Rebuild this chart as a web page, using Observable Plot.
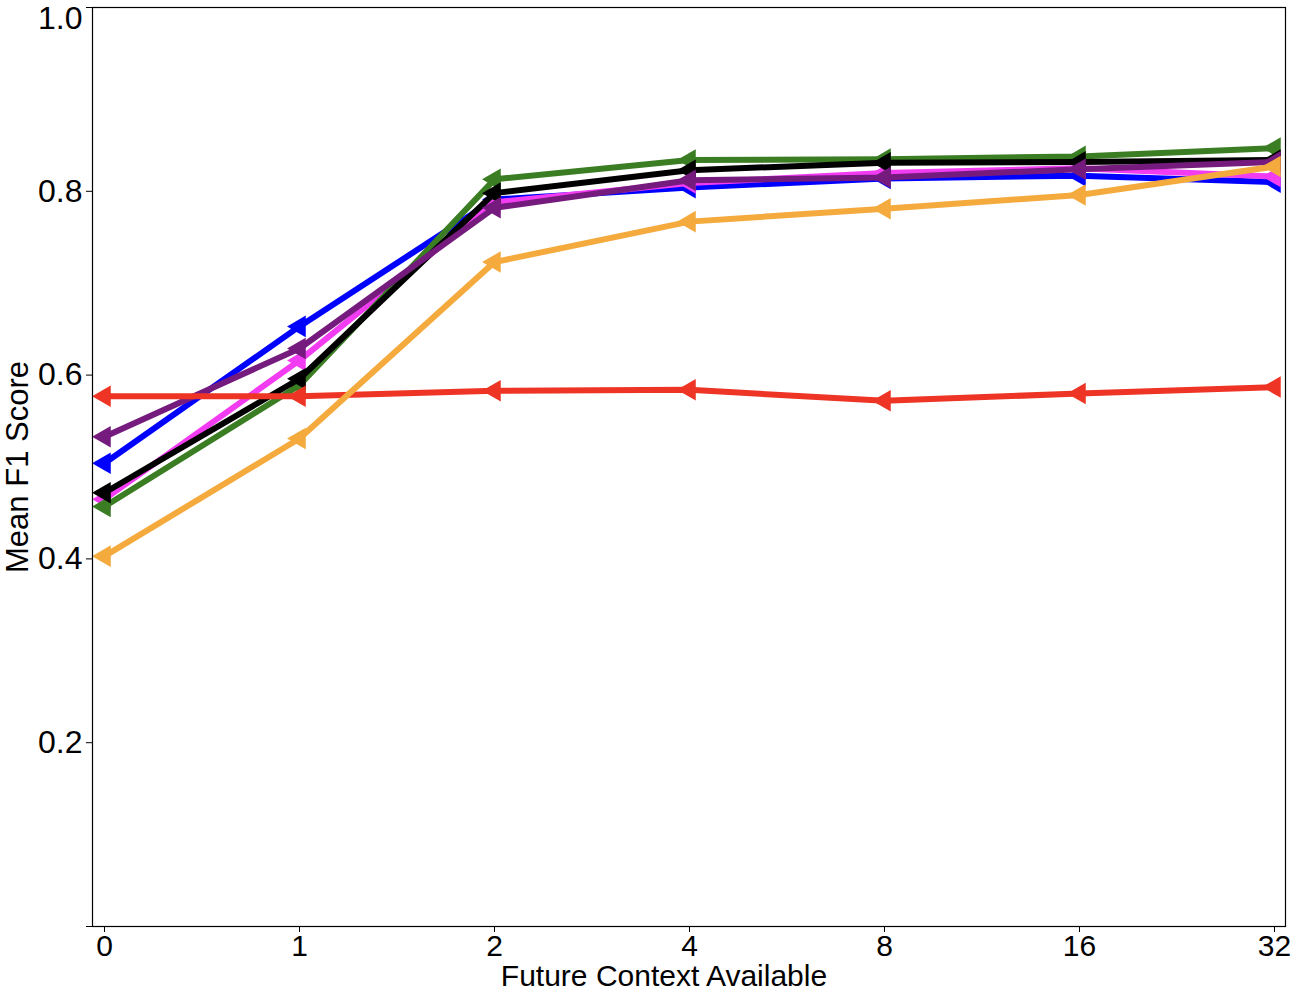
<!DOCTYPE html>
<html>
<head>
<meta charset="utf-8">
<script src="https://cdn.jsdelivr.net/npm/d3@7"></script>
<script src="https://cdn.jsdelivr.net/npm/@observablehq/plot@0.6"></script>
<style>
  html, body { margin: 0; padding: 0; background: #fff; }
  #chart svg { display: block; }
</style>
</head>
<body>
<div id="chart"></div>
<script>
const contexts = ["0", "1", "2", "4", "8", "16", "32"];
const yTicks = [0, 0.2, 0.4, 0.6, 0.8, 1.0];
const yTopLabel = [1.0];

const blueVals    = [0.504, 0.653, 0.791, 0.804, 0.814, 0.817, 0.810];
const magentaVals = [0.465, 0.616, 0.788, 0.809, 0.820, 0.825, 0.816];
const greenVals   = [0.457, 0.589, 0.813, 0.834, 0.835, 0.838, 0.847];
const blackVals   = [0.472, 0.596, 0.798, 0.823, 0.831, 0.832, 0.834];
const purpleVals  = [0.533, 0.629, 0.782, 0.812, 0.815, 0.824, 0.832];
const redVals     = [0.577, 0.577, 0.583, 0.584, 0.572, 0.580, 0.587];
const orangeVals  = [0.403, 0.531, 0.723, 0.767, 0.781, 0.796, 0.827];

const seriesNames  = ["blue", "magenta", "green", "black", "purple", "red", "orange"];
const seriesVals   = [blueVals, magentaVals, greenVals, blackVals, purpleVals, redVals, orangeVals];
const seriesColors = ["#0000ff", "#f23cf2", "#3a7d23", "#000000", "#751b7e", "#ee3425", "#f4aa3d"];

const rows = [];
seriesNames.forEach((s, i) => {
  contexts.forEach((c, j) => rows.push({series: s, order: i, x: c, y: seriesVals[i][j]}));
});

const font = "'Liberation Sans', Arial, Helvetica, sans-serif";
const fmt = d => (d === 0 || d === 1) ? "" : d3.format(".1f")(d);

const marks = [];
seriesNames.forEach((s, i) => {
  const d = rows.filter(r => r.series === s);
  marks.push(Plot.line(d, {x: "x", y: "y", stroke: seriesColors[i], strokeWidth: 6, strokeLinejoin: "round"}));
  marks.push(Plot.dot(d, {x: "x", y: "y", symbol: "triangle", r: 8, rotate: -90, fill: seriesColors[i], stroke: "none"}));
});

const chart = Plot.plot({
  width: 1298,
  height: 992,
  marginLeft: 92,
  marginRight: 13,
  marginTop: 7,
  marginBottom: 66,
  style: {fontFamily: font, fontSize: "32px", color: "#000", background: "#fff", overflow: "visible"},
  x: {type: "point", domain: contexts, padding: 0.0434, label: null},
  y: {domain: [0, 1], label: null},
  marks: [
    Plot.axisX({ticks: contexts, tickSize: 6, tickPadding: 2, fontSize: 30, label: null}),
    Plot.axisY({ticks: yTicks, tickSize: 6, tickPadding: 4, fontSize: 32, label: null, tickFormat: fmt}),
    Plot.text(yTopLabel, {y: d => d, frameAnchor: "left", dx: -10, dy: 11, text: d => d3.format(".1f")(d), textAnchor: "end", lineAnchor: "middle", fontSize: 32, fill: "#000"}),
    ...marks,
    Plot.frame({stroke: "#000", strokeWidth: 1.2}),
    Plot.text(["Mean F1 Score"], {frameAnchor: "left", dx: -74, rotate: -90, fontSize: 31, textAnchor: "middle", lineAnchor: "middle", fill: "#000"}),
    Plot.text(["Future Context Available"], {frameAnchor: "bottom", dx: -25, dy: 50, fontSize: 30, textAnchor: "middle", lineAnchor: "middle", fill: "#000"})
  ]
});
document.getElementById("chart").appendChild(chart);
</script>
</body>
</html>
